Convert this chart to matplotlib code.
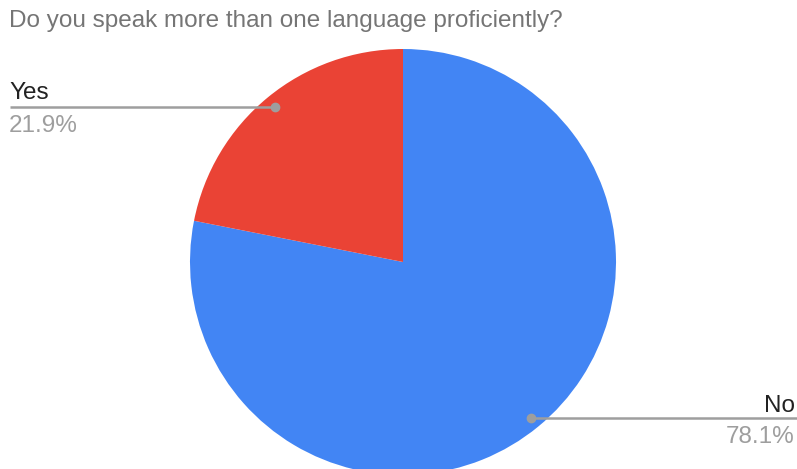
import matplotlib
matplotlib.use("Agg")
import matplotlib.pyplot as plt

# Dati del sondaggio
labels = ["No", "Yes"]
values = [78.1, 21.9]
colors = ["#4285F4", "#EA4335"]
title = "Do you speak more than one language proficiently?"

W, H = 797, 469
plt.rcParams["font.family"] = ["Liberation Sans", "DejaVu Sans"]

fig = plt.figure(figsize=(W / 100, H / 100), dpi=100)
ax = fig.add_axes([0, 0, 1, 1])

# Torta in coordinate pixel (y verso l'alto)
cx, cy, r = 403, H - 262, 213
ax.pie(values, colors=colors, startangle=90, counterclock=False,
       center=(cx, cy), radius=r, wedgeprops=dict(linewidth=0))
ax.set_xlim(0, W)
ax.set_ylim(0, H)
ax.set_aspect("equal")
ax.axis("off")

fig.text(9 / W, 1 - 27 / H, title, fontsize=17.5, color="#757575",
         ha="left", va="baseline")

line_col = "#9e9e9e"
fs = 17.5

# Etichetta "Yes" a sinistra
y_yes = H - 107
ax.plot([10, 275], [y_yes, y_yes], color=line_col, lw=1.8, solid_capstyle="butt")
ax.plot([275], [y_yes], "o", color=line_col, ms=6)
ax.text(9, y_yes + 8, labels[1], fontsize=fs, color="#222222", ha="left", va="baseline")
ax.text(9, y_yes - 25, f"{values[1]}%", fontsize=fs, color="#9e9e9e", ha="left", va="baseline")

# Etichetta "No" a destra
y_no = H - 418
ax.plot([531, W], [y_no, y_no], color=line_col, lw=1.8, solid_capstyle="butt")
ax.plot([531], [y_no], "o", color=line_col, ms=6)
ax.text(W - 2, y_no + 6, labels[0], fontsize=fs, color="#222222", ha="right", va="baseline")
ax.text(W - 2, y_no - 25, f"{values[0]}%", fontsize=fs, color="#9e9e9e", ha="right", va="baseline")

fig.savefig("out.png", dpi=100)
